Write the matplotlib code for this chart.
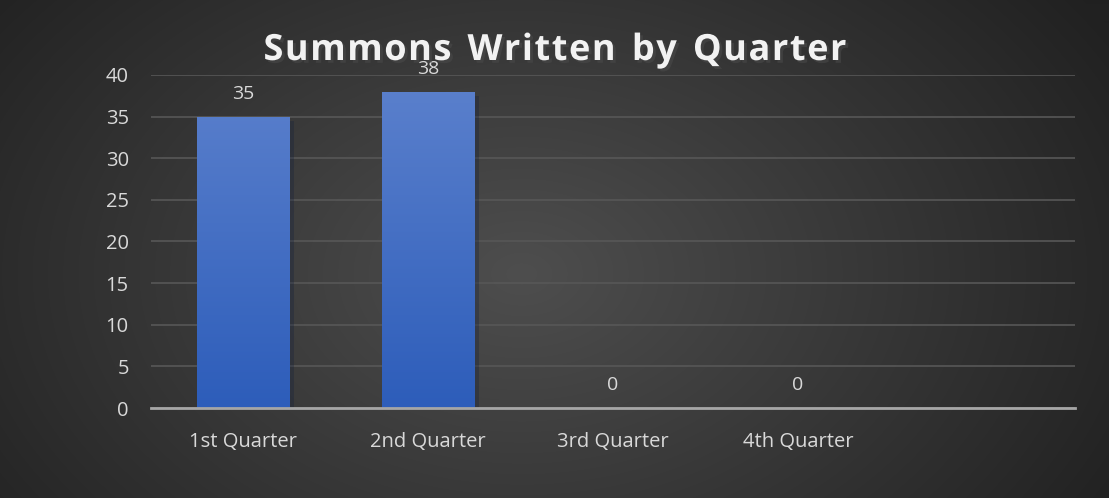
import numpy as np
import matplotlib
matplotlib.use("Agg")
import matplotlib.pyplot as plt
import matplotlib.patheffects as pe

categories = ["1st Quarter", "2nd Quarter", "3rd Quarter", "4th Quarter", ""]
values = [35, 38, 0, 0, None]
yticks = [0, 5, 10, 15, 20, 25, 30, 35, 40]
title = "Summons Written by Quarter"

W, H = 1109, 498
fig = plt.figure(figsize=(W / 100, H / 100), dpi=100)

# radial gradient background
bg = fig.add_axes([0, 0, 1, 1], zorder=-10)
yy, xx = np.mgrid[0:H, 0:W]
cx, cy = 0.47 * W, 0.55 * H
r = np.sqrt(((xx - cx) / (0.62 * W)) ** 2 + ((yy - cy) / (0.95 * H)) ** 2)
r = np.clip(r, 0, 1)
light = np.array([0x4e, 0x4e, 0x4e]) / 255
dark = np.array([0x21, 0x21, 0x21]) / 255
img = light[None, None, :] * (1 - r[..., None]) + dark[None, None, :] * r[..., None]
bg.imshow(img, extent=[0, 1, 0, 1], aspect="auto", origin="upper")
bg.axis("off")

ax = fig.add_axes([151 / W, 1 - 408 / H, (1075 - 151) / W, (408 - 75) / H])
ax.patch.set_alpha(0)
x = np.arange(len(categories))
ax.set_xlim(-0.5, len(categories) - 0.5)
ax.set_ylim(0, 40)

vals = [v if v is not None else 0 for v in values]
bars = ax.bar(x, vals, width=0.5, color="#3d68c4", zorder=3)
grad = np.linspace(0, 1, 256)[:, None]
c_top = np.array([0x5c, 0x81, 0xcd]) / 255
c_bot = np.array([0x2d, 0x5d, 0xba]) / 255
gimg = c_top[None, None, :] * (1 - grad[..., None]) + c_bot[None, None, :] * grad[..., None]
for b, v in zip(bars, vals):
    if v > 0:
        bx, bw = b.get_x(), b.get_width()
        im = ax.imshow(gimg, extent=[bx, bx + bw, 0, 40], aspect="auto",
                       origin="upper", zorder=4)
        im.set_clip_path(b)
        b.set_path_effects([pe.SimplePatchShadow(offset=(3, -3), alpha=0.3)])

for xi, v in zip(x, values):
    if v is not None:
        ax.annotate(str(v), (xi, v), xytext=(0, 10), textcoords="offset points",
                    ha="center", va="bottom", color="#d9d9d9", fontsize=14,
                    family="Open Sans", zorder=6)

ax.set_yticks(yticks)
ax.set_xticks(x[:4])
ax.set_xticklabels(categories[:4])
ax.grid(axis="y", color="#575757", linewidth=1.2, zorder=0)
ax.set_axisbelow(True)
for s in ["top", "right", "left"]:
    ax.spines[s].set_visible(False)
ax.spines["bottom"].set_color("#a6a6a6")
ax.spines["bottom"].set_linewidth(2)
ax.spines["bottom"].set_zorder(5)
ax.tick_params(axis="both", length=0, colors="#d9d9d9", labelsize=14.5)
ax.tick_params(axis="x", pad=17)
ax.tick_params(axis="y", pad=16)
for lbl in ax.get_xticklabels() + ax.get_yticklabels():
    lbl.set_family("Open Sans")

# letter-spaced title
renderer = fig.canvas.get_renderer()
tkw = dict(color="#f2f2f2", fontsize=26, fontweight="bold", family="Open Sans",
           va="center", ha="left")
spacing = 1.5  # px
widths = []
for ch in title:
    t = fig.text(0, 0, ch if ch != " " else "n", **tkw)
    wpx = t.get_window_extent(renderer).width
    if ch == " ":
        wpx *= 0.55
    widths.append(wpx)
    t.remove()
total = sum(widths) + spacing * (len(title) - 1)
xpos = 555 - total / 2
ty = 1 - 51 / H
for ch, wpx in zip(title, widths):
    if ch != " ":
        fig.text(xpos / W, ty, ch,
                 path_effects=[pe.withSimplePatchShadow(offset=(2, -2), alpha=0.6)],
                 **tkw)
    xpos += wpx + spacing

fig.savefig("out.png", dpi=100)
